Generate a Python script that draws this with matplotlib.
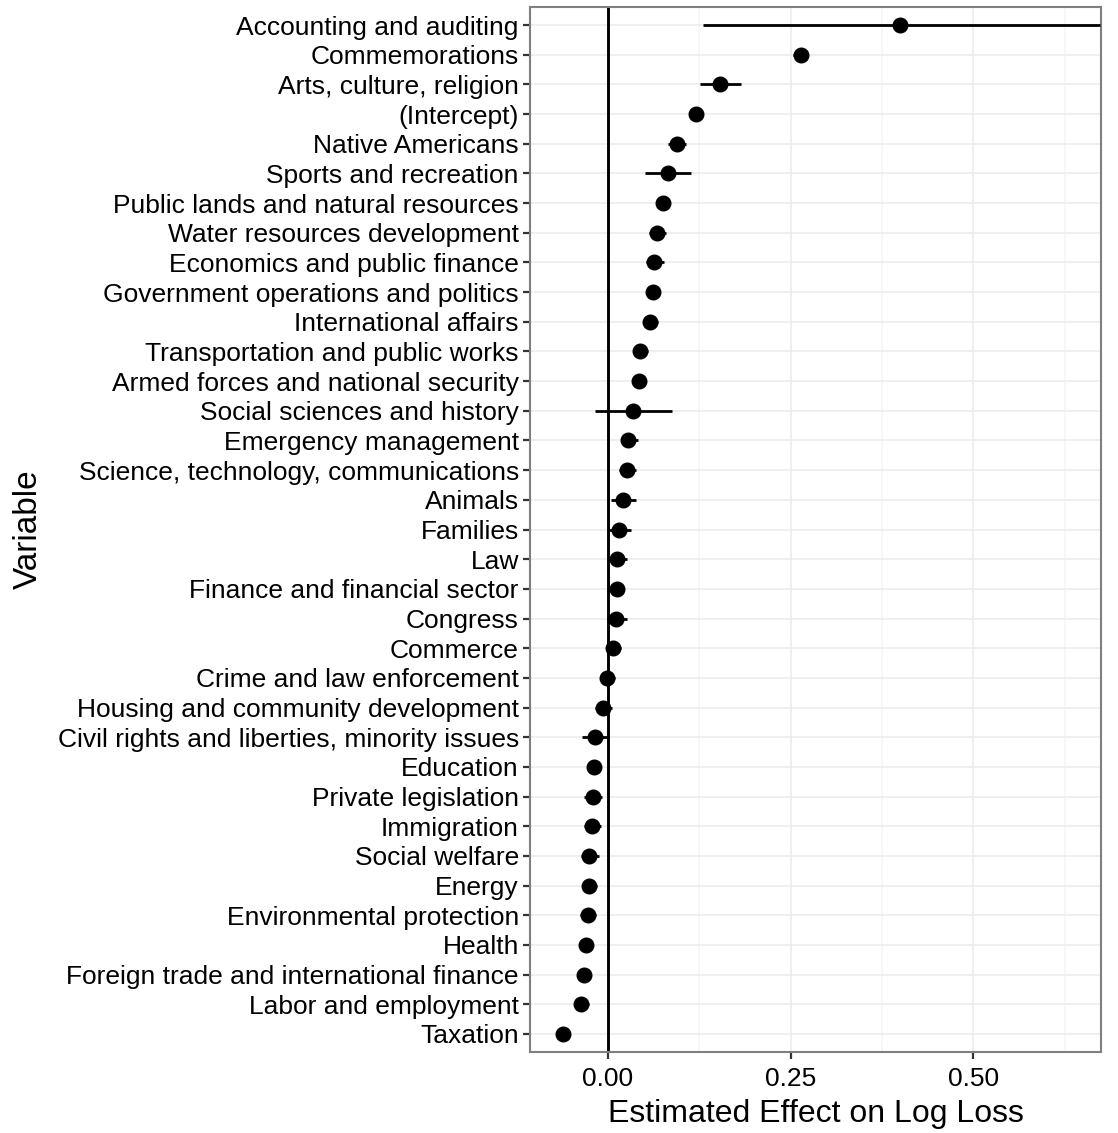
import numpy as np
import matplotlib
matplotlib.use("Agg")
import matplotlib.pyplot as plt
from matplotlib.ticker import MultipleLocator

plt.rcParams['font.family'] = ['Liberation Sans', 'DejaVu Sans']

# top to bottom
variables = [
    "Accounting and auditing", "Commemorations", "Arts, culture, religion",
    "(Intercept)", "Native Americans", "Sports and recreation",
    "Public lands and natural resources", "Water resources development",
    "Economics and public finance", "Government operations and politics",
    "International affairs", "Transportation and public works",
    "Armed forces and national security", "Social sciences and history",
    "Emergency management", "Science, technology, communications",
    "Animals", "Families", "Law", "Finance and financial sector",
    "Congress", "Commerce", "Crime and law enforcement",
    "Housing and community development",
    "Civil rights and liberties, minority issues", "Education",
    "Private legislation", "Immigration", "Social welfare", "Energy",
    "Environmental protection", "Health",
    "Foreign trade and international finance", "Labor and employment",
    "Taxation",
]
estimate = [0.400, 0.264, 0.1535, 0.120, 0.0943, 0.082, 0.076, 0.0678,
            0.0637, 0.0615, 0.0582, 0.0446, 0.0432, 0.0346, 0.0282, 0.026,
            0.0214, 0.015, 0.0132, 0.0123, 0.0114, 0.0073, -0.001, -0.0064,
            -0.0173, -0.0187, -0.0201, -0.0214, -0.0251, -0.0255, -0.0269,
            -0.030, -0.0324, -0.0365, -0.0615]
lower = [0.130, 0.2536, 0.1265, 0.116, 0.0824, 0.0514, 0.071, 0.0568,
         0.0523, 0.0533, 0.0486, 0.036, 0.0355, -0.0173, 0.0178, 0.0154,
         0.005, 0.001, 0.002, 0.004, -0.0014, -0.003, -0.009, -0.017,
         -0.0351, -0.0273, -0.032, -0.032, -0.0365, -0.0347, -0.0374,
         -0.037, -0.039, -0.0464, -0.066]
upper = [0.673, 0.274, 0.182, 0.124, 0.1066, 0.1138, 0.081, 0.0797,
         0.0765, 0.0714, 0.069, 0.055, 0.0523, 0.0878, 0.041, 0.0383,
         0.0387, 0.0323, 0.0264, 0.0227, 0.0264, 0.018, 0.0096, 0.0063,
         0.0, -0.0096, -0.0078, -0.0096, -0.0119, -0.015, -0.0156,
         -0.023, -0.026, -0.0251, -0.057]
xtick_vals = [0.0, 0.25, 0.5]
xtick_labels = ["0.00", "0.25", "0.50"]

n = len(variables)
ypos = np.arange(n)[::-1]

fig = plt.figure(figsize=(11.18, 11.33), dpi=100)
ax = fig.add_axes([0.474, 0.0717, 0.5108, 0.9219])

ax.axvline(0, color='black', linewidth=2.1, zorder=2)
ax.hlines(ypos, lower, upper, color='black', linewidth=2.0, zorder=3)
ax.plot(estimate, ypos, 'o', color='black', markersize=10.5, zorder=4)

ax.set_xlim(-0.1065, 0.6745)
ax.set_ylim(-0.6, n - 0.4)
ax.xaxis.set_minor_locator(MultipleLocator(0.125))
ax.set_xticks(xtick_vals)
ax.set_xticklabels(xtick_labels, fontsize=19)
ax.set_yticks(ypos)
ax.set_yticklabels(variables, fontsize=19)

ax.grid(which='major', color='#ebebeb', linewidth=1.1, zorder=0)
ax.grid(which='minor', axis='x', color='#f5f5f5', linewidth=1.1, zorder=0)
ax.set_axisbelow(True)

ax.tick_params(axis='both', which='major', length=5, width=1.6,
               color='#333333', labelcolor='black')
ax.tick_params(axis='x', which='minor', length=0)
ax.tick_params(axis='x', pad=6)
ax.tick_params(axis='y', pad=3)
for s in ax.spines.values():
    s.set_color('#7f7f7f')
    s.set_linewidth(1.5)

ax.set_xlabel("Estimated Effect on Log Loss", fontsize=23, labelpad=6)
ax.set_ylabel("Variable", fontsize=24, labelpad=10)

fig.savefig("out.png", dpi=100)
